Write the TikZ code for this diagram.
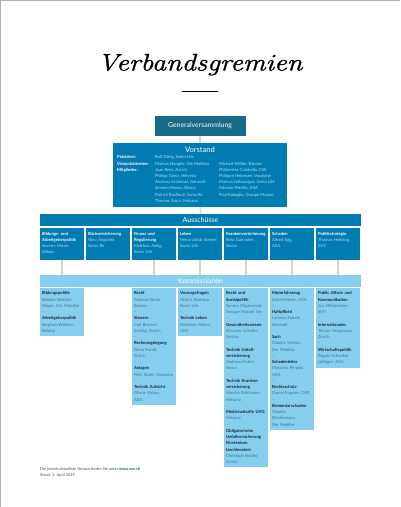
\documentclass[tikz,border=0pt]{standalone}
\usepackage{fontspec}
\setsansfont{Lato}
\newfontfamily\headlinefont{Latin Modern Roman}[ItalicFeatures={FakeBold=1.1}]
\usepackage{xcolor}
\usepackage{tikz}
\usetikzlibrary{positioning}
\definecolor{gvblue}{RGB}{24,106,138}
\definecolor{svvblue}{RGB}{0,124,178}
\definecolor{komblue}{RGB}{134,206,240}
\definecolor{namelight}{RGB}{178,218,240}
\definecolor{namedark}{RGB}{62,118,150}
\definecolor{headdark}{RGB}{22,34,52}
\definecolor{connline}{RGB}{212,212,212}
\newcommand{\ahead}[1]{{\color{white}\bfseries #1}}
\newcommand{\khead}[1]{{\color{headdark}\bfseries #1}}
\newcommand{\vsrow}[3]{\makebox[38pt][l]{#1}\makebox[64pt][l]{#2}#3}
\tikzset{
  frame/.style={draw=black!30, line width=1pt},
  titletext/.style={anchor=base, inner sep=0, font=\headlinefont\fontsize{24}{24}\selectfont\itshape},
  gvbox/.style={fill=gvblue, text=white, minimum width=91, minimum height=20, inner sep=0, font=\sffamily\fontsize{6.9}{7}\selectfont},
  vsbox/.style={fill=svvblue, minimum width=174, minimum height=64, inner sep=0},
  vstitle/.style={text=white, inner sep=0, font=\sffamily\fontsize{7.6}{8}\selectfont},
  vslist/.style={anchor=north west, inner sep=0, align=left, text=namelight, font=\sffamily\fontsize{4.2}{6.2}\selectfont},
  bar/.style={minimum width=321, minimum height=12, inner sep=0, text=white, font=\sffamily\fontsize{7}{7}\selectfont},
  acell/.style={fill=svvblue, anchor=north west, text width=40.4, inner xsep=1.8, inner ysep=3.6,
    text height=3.3, text depth=21.5, align=left, text=namelight, font=\sffamily\fontsize{4.2}{6.25}\selectfont},
  kcell/.style={fill=komblue, anchor=north west, text width=40.4, inner xsep=1.8, inner ysep=3.6,
    align=left, text=namedark, font=\sffamily\fontsize{4.2}{6.25}\selectfont},
  conn/.style={draw=connline, line width=1.6pt},
  footer/.style={anchor=north west, inner sep=0, align=left, text=black!70, font=\sffamily\fontsize{3.9}{6}\selectfont}
}
\begin{document}
\begin{tikzpicture}[x=1pt, y=-1pt]
\useasboundingbox (0,0) rectangle (400,507);
\draw[frame] (0.5,507) -- (0.5,0.5) -- (400,0.5);

% title
\node[titletext] (title) at (200,70.5) {\scalebox{1.18}[1]{Verbandsgremien}};
\draw[line width=0.9pt] (182,91) -- (218,91);

% Generalversammlung and Vorstand
\node[gvbox] (gv) at (200,126) {Generalversammlung};
\node[vsbox] (vs) at (200,175) {};
\node[vstitle] (vsname) at (200,150) {Vorstand};
\node[vslist] (vsmembers) at (117,155.5) {%
  \vsrow{\ahead{Präsident:}}{Rolf Dörig, Swiss Life}{}\\
  \vsrow{\ahead{Vizepräsidenten:}}{Markus Hongler, Die Mobiliar}{Michael Müller, Baloise}\\
  \vsrow{\ahead{Mitglieder:}}{Juan Beer, Zurich}{Philomena Colatrella, CSS}\\
  \vsrow{}{Philipp Gmür, Helvetia}{Philippe Hebeisen, Vaudoise}\\
  \vsrow{}{Andreas Krümmel, Generali}{Markus Leibundgut, Swiss Life}\\
  \vsrow{}{Severin Moser, Allianz}{Fabrizio Petrillo, AXA}\\
  \vsrow{}{Patrick Raaflaub, Swiss Re}{Paul Rabaglia, Groupe Mutuel}\\
  \vsrow{}{Thomas Szucs, Helsana}{}};

% Ausschuesse
\node[bar, fill=svvblue] (aus) at (200.5,220) {Ausschüsse};
\node[acell] (a1) at (40,228) {\ahead{Bildungs- und}\\ \ahead{Arbeitgeberpolitik}\\ Severin Moser,\\ Allianz};
\node[acell] (a2) at (86,228) {\ahead{Rückversicherung}\\ Nino Angiolini,\\ Swiss Re};
\node[acell] (a3) at (132,228) {\ahead{Finanz und}\\ \ahead{Regulierung}\\ Matthias Aellig,\\ Swiss Life};
\node[acell] (a4) at (178,228) {\ahead{Leben}\\ Heinz-Jakob Steiner,\\ Swiss Life};
\node[acell] (a5) at (224,228) {\ahead{Krankenversicherung}\\ Reto Dahinden,\\ Swica};
\node[acell] (a6) at (270,228) {\ahead{Schaden}\\ Alfred Egg,\\ AXA};
\node[acell] (a7) at (316,228) {\ahead{Politikstrategie}\\ Thomas Helbling,\\ SVV};

% Kommissionen
\node[bar, fill=komblue] (kom) at (200.5,281) {Kommissionen};
\node[kcell] (k1) at (40,288) {\khead{Bildungspolitik}\\ Belinda Walther\\ Weger, Die Mobiliar\\ –\\
  \khead{Arbeitgeberpolitik}\\ Stephan Walliser,\\ Baloise};
\node[kcell] (k2) at (132,288) {\khead{Recht}\\ Andreas Burki,\\ Baloise\\ –\\
  \khead{Steuern}\\ Carl Bresnel,\\ Schillig, Zurich\\ –\\
  \khead{Rechnungslegung}\\ Elena Kondi,\\ Zurich\\ –\\
  \khead{Anlagen}\\ Felix Stalin, Vaudoise\\ –\\
  \khead{Technik Aufsicht}\\ Olivier Kabay,\\ AXA};
\node[kcell] (k3) at (178,288) {\khead{Vorsorgefragen}\\ Patrick Barbosa,\\ Swiss Life\\ –\\
  \khead{Technik Leben}\\ Delphine Moine,\\ AXA};
\node[kcell] (k4) at (224,288) {\khead{Recht und}\\ \khead{Sozialpolitik}\\ Sandra Wigestrand,\\ Groupe Mutuel Vie\\ –\\
  \khead{Gesundheitswesen}\\ Riccardo Schaller,\\ Sanitas\\ –\\
  \khead{Technik Unfall-}\\ \khead{versicherung}\\ Andreas Huber,\\ Swica\\ –\\
  \khead{Technik Kranken-}\\ \khead{versicherung}\\ Monika Bühlmann,\\ Helsana\\ –\\
  \khead{Medizinaltarife UVG}\\ Helsana\\ –\\
  \khead{Obligatorische}\\ \khead{Unfallversicherung}\\ \khead{Fürstentum}\\ \khead{Liechtenstein}\\ Christoph Bühler,\\ Zurich};
\node[kcell] (k5) at (270,288) {\khead{Motorfahrzeug}\\ Daniel Meier, AXA\\ –\\
  \khead{Haftpflicht}\\ Lorenzo Natale,\\ Generali\\ –\\
  \khead{Sach}\\ Claudio Scheda,\\ Die Mobiliar\\ –\\
  \khead{Schadenleiter}\\ Massimo Pergola,\\ AXA\\ –\\
  \khead{Rechtsschutz}\\ Daniel Eugster, CAP\\ –\\
  \khead{Elementarschaden}\\ Claudia\\ Brüdermann,\\ Die Mobiliar};
\node[kcell] (k6) at (316,288) {\khead{Public Affairs und}\\ \khead{Kommunikation}\\ Jan Mühlethaler,\\ SVV\\ –\\
  \khead{Internationales}\\ Tilman Hengevoss,\\ Zurich\\ –\\
  \khead{Wirtschaftspolitik}\\ Regula Schenkel-\\ Lüthiger, AXA};

% connectors
\draw[conn] (gv) -- (vs);
\draw[conn] (vs) -- (aus);
\foreach \n in {a1,a3,a4,a5,a6,a7}
  \draw[conn] (\n) -- (\n |- kom.north);

% footer
\node[footer] (note) at (40,467) {Die jeweils aktuellste Version finden Sie unter {\color{svvblue!70!black}\bfseries www.svv.ch}\\ Stand: 1. April 2019};
\end{tikzpicture}
\end{document}
